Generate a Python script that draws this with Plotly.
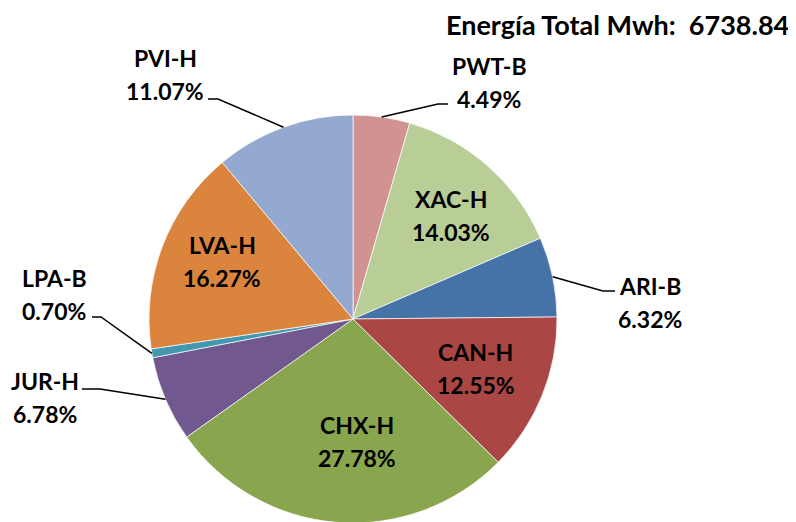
import math
import plotly.graph_objects as go

# ---- data ----
labels = ["PWT-B", "XAC-H", "ARI-B", "CAN-H", "CHX-H", "JUR-H", "LPA-B", "LVA-H", "PVI-H"]
percent = [4.49, 14.03, 6.32, 12.55, 27.78, 6.78, 0.70, 16.27, 11.07]
total_mwh = 6738.84
colors = ["#D19392", "#B9CD96", "#4572A7", "#AA4643", "#89A54E",
          "#71588F", "#4198AF", "#DB843D", "#93A9CF"]

# ---- layout constants (pixels, in window coordinates) ----
W, H = 796, 522
OFF = 8  # page body margin
CX, CY, R = 353, 319, 204
FONT = "Lato"
FS = 23
TITLE_FS = 27
LINE_GAP = 16.5

# inside labels: radial fraction, angular nudge (degrees)
inside_pos = {"XAC-H": (0.70, 2.0), "CAN-H": (0.65, 0.0), "CHX-H": (0.60, -6.5), "LVA-H": (0.70, 3.0)}
# outside labels: text centre, knee point, end of horizontal tick
outside = {
    "PVI-H": dict(tx=165, ty=74, kx=218, ky=99, hx=208),
    "PWT-B": dict(tx=489, ty=82, kx=438, ky=104, hx=448),
    "ARI-B": dict(tx=650, ty=302, kx=603, ky=291, hx=615),
    "LPA-B": dict(tx=54, ty=294, kx=101, ky=317, hx=92),
    "JUR-H": dict(tx=45, ty=397, kx=100, ky=389, hx=82),
}


def px(x):
    return (x - OFF) / W


def py(y):
    return 1 - (y - OFF) / H


fig = go.Figure()
fig.add_trace(go.Pie(
    labels=labels, values=percent, sort=False, direction="clockwise", rotation=0,
    marker=dict(colors=colors, line=dict(color="rgba(255,255,255,0.7)", width=1)),
    textinfo="none", hoverinfo="label+percent", showlegend=False,
    domain=dict(x=[px(CX - R - 5), px(CX + R + 5)], y=[py(CY + R), py(CY - R)]),
))

annotations = []
shapes = []
tot = sum(percent)
cum = 0.0
for lab, v in zip(labels, percent):
    mid = (cum + v / 2) / tot * 2 * math.pi
    cum += v
    s, c = math.sin(mid), math.cos(mid)
    txt2 = f"{v:.2f}%"
    if lab in inside_pos:
        f, nudge = inside_pos[lab]
        a = mid + math.radians(nudge)
        tx, ty = CX + f * R * math.sin(a), CY - f * R * math.cos(a)
    else:
        o = outside[lab]
        tx, ty = o["tx"], o["ty"]
        ex, ey = CX + R * s, CY - R * c
        shapes.append(dict(
            type="path", xref="paper", yref="paper", layer="above",
            path=f"M {px(ex)} {py(ey)} L {px(o['kx'])} {py(o['ky'])} L {px(o['hx'])} {py(o['ky'])}",
            line=dict(color="black", width=1.5),
        ))
    for t, dy in ((lab, -LINE_GAP), (txt2, LINE_GAP)):
        annotations.append(dict(
            x=px(tx), y=py(ty + dy), xref="paper", yref="paper", text=f"<b>{t}</b>",
            showarrow=False, xanchor="center", yanchor="middle",
            font=dict(family=FONT, size=FS, color="black"),
        ))

annotations.append(dict(
    x=px(791), y=py(24), xref="paper", yref="paper",
    text=f"<b>Energía Total Mwh:  {total_mwh:.2f}</b>",
    showarrow=False, xanchor="right", yanchor="middle",
    font=dict(family=FONT, size=TITLE_FS, color="black"),
))

fig.update_layout(
    width=W, height=H, margin=dict(l=0, r=0, t=0, b=0),
    paper_bgcolor="white", plot_bgcolor="white",
    annotations=annotations, shapes=shapes,
)
fig.write_html("out.html")
